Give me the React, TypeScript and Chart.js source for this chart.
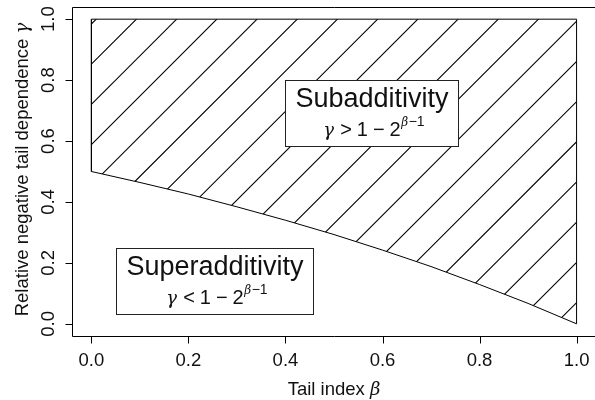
import React, { useEffect, useRef } from "react";
import { Chart, registerables } from "chart.js";

Chart.register(...registerables);

// Boundary curve: gamma at given beta
const betaValues = [0, 0.1, 0.2, 0.3, 0.4, 0.5, 0.6, 0.7, 0.8, 0.9, 1.0];
const gammaBoundary = [0.5, 0.464, 0.426, 0.384, 0.34, 0.293, 0.242, 0.188, 0.129, 0.067, 0.0];
const gammaTop = 1.0;

const xTickValues = [0, 0.2, 0.4, 0.6, 0.8, 1.0];
const xTickLabels = ["0.0", "0.2", "0.4", "0.6", "0.8", "1.0"];
const yTickValues = [0, 0.2, 0.4, 0.6, 0.8, 1.0];
const yTickLabels = ["0.0", "0.2", "0.4", "0.6", "0.8", "1.0"];

const regionNames = ["Subadditivity", "Superadditivity"];
const regionRelations = [">", "<"];
const regionAnchorBeta = [0.4, 0.05];
const regionAnchorGamma = [0.8, 0.25];

const xTitle = "Tail index ";
const xTitleSymbol = "β";
const yTitle = "Relative negative tail dependence ";
const yTitleSymbol = "γ";

const SANS = '"Liberation Sans", Arial, sans-serif';
const SERIF = '"DejaVu Serif", "Liberation Serif", serif';

function drawMath(ctx: CanvasRenderingContext2D, cx: number, baseline: number, rel: string) {
  const pieces = [
    { t: "γ", f: `italic 18px ${SERIF}`, dy: 0, gap: 6 },
    { t: rel, f: `20px ${SANS}`, dy: 0, gap: 5 },
    { t: "1", f: `20px ${SANS}`, dy: 0, gap: 5 },
    { t: "−", f: `20px ${SANS}`, dy: 0, gap: 5 },
    { t: "2", f: `20px ${SANS}`, dy: 0, gap: 0.5 },
    { t: "β", f: `italic 12px ${SERIF}`, dy: -10, gap: 0.5 },
    { t: "−1", f: `14px ${SANS}`, dy: -10, gap: 0 },
  ];
  let total = 0;
  const widths = pieces.map((p) => {
    ctx.font = p.f;
    const w = ctx.measureText(p.t).width;
    total += w + p.gap;
    return w;
  });
  let x = cx - total / 2;
  ctx.textAlign = "left";
  ctx.textBaseline = "alphabetic";
  pieces.forEach((p, i) => {
    ctx.font = p.f;
    ctx.fillText(p.t, x, baseline + p.dy);
    x += widths[i] + p.gap;
  });
}

const decorPlugin = {
  id: "decor",
  beforeDatasetsDraw(chart: any) {
    const ctx: CanvasRenderingContext2D = chart.ctx;
    const meta = chart.getDatasetMeta(0);
    const pts = meta.data;
    const area = chart.chartArea;
    const xs = chart.scales.x;
    const ys = chart.scales.y;
    ctx.save();
    ctx.beginPath();
    pts.forEach((p: any, i: number) => {
      if (i === 0) ctx.moveTo(p.x, p.y);
      else ctx.lineTo(p.x, p.y);
    });
    ctx.closePath();
    ctx.clip();
    const spacing = 40.2;
    const c0 = xs.getPixelForValue(0) + ys.getPixelForValue(gammaTop) + 4.8;
    const cMin = area.left + area.top;
    const cMax = area.right + area.bottom;
    let c = c0 - Math.ceil((c0 - cMin) / spacing) * spacing;
    ctx.strokeStyle = "#000";
    ctx.lineWidth = 1.1;
    ctx.beginPath();
    for (; c <= cMax; c += spacing) {
      ctx.moveTo(c - area.bottom, area.bottom);
      ctx.lineTo(c - area.top, area.top);
    }
    ctx.stroke();
    ctx.restore();
  },
  afterDatasetsDraw(chart: any) {
    const ctx: CanvasRenderingContext2D = chart.ctx;
    const area = chart.chartArea;
    const xs = chart.scales.x;
    const ys = chart.scales.y;
    ctx.save();
    ctx.fillStyle = "#000";
    ctx.strokeStyle = "#000";

    // region labels
    regionNames.forEach((name, i) => {
      const left = Math.round(xs.getPixelForValue(regionAnchorBeta[i])) + 0.5;
      const top = Math.round(ys.getPixelForValue(regionAnchorGamma[i])) + 0.5;
      ctx.font = `27px ${SANS}`;
      const w = ctx.measureText(name).width;
      const bw = Math.round(w + 20);
      const bh = 66;
      ctx.fillStyle = "#fff";
      ctx.fillRect(left, top, bw, bh);
      ctx.lineWidth = 1;
      ctx.strokeStyle = "#222";
      ctx.strokeRect(left, top, bw, bh);
      ctx.fillStyle = "#111";
      ctx.textAlign = "center";
      ctx.textBaseline = "alphabetic";
      ctx.fillText(name, left + bw / 2, top + 26);
      drawMath(ctx, left + bw / 2 + 2, top + 55.5, regionRelations[i]);
    });

    // frame (box, right side off canvas)
    ctx.strokeStyle = "#000";
    ctx.fillStyle = "#000";
    ctx.lineWidth = 1;
    ctx.beginPath();
    const L = area.left + 0.5;
    const T = area.top + 0.5;
    const B = area.bottom + 0.5;
    ctx.moveTo(chart.width + 2, T);
    ctx.lineTo(L, T);
    ctx.lineTo(L, B);
    ctx.lineTo(chart.width + 2, B);
    ctx.stroke();

    // x ticks
    ctx.beginPath();
    xTickValues.forEach((v) => {
      const px = Math.round(xs.getPixelForValue(v)) + 0.5;
      ctx.moveTo(px, B);
      ctx.lineTo(px, B + 7);
    });
    // y ticks
    yTickValues.forEach((v) => {
      const py = Math.round(ys.getPixelForValue(v)) + 0.5;
      ctx.moveTo(L, py);
      ctx.lineTo(L - 7, py);
    });
    ctx.stroke();

    ctx.fillStyle = "#111";
    ctx.font = `18.5px ${SANS}`;
    ctx.textAlign = "center";
    ctx.textBaseline = "alphabetic";
    xTickValues.forEach((v, i) => {
      ctx.fillText(xTickLabels[i], xs.getPixelForValue(v), 365.5);
    });
    yTickValues.forEach((v, i) => {
      ctx.save();
      ctx.translate(53.5, ys.getPixelForValue(v));
      ctx.rotate(-Math.PI / 2);
      ctx.fillText(yTickLabels[i], 0, 0);
      ctx.restore();
    });

    // x title
    ctx.font = `18.5px ${SANS}`;
    const xw1 = ctx.measureText(xTitle).width;
    ctx.font = `italic 18px ${SERIF}`;
    const xw2 = ctx.measureText(xTitleSymbol).width;
    const xc = (xs.getPixelForValue(0) + xs.getPixelForValue(1)) / 2;
    const sx = xc - (xw1 + xw2) / 2;
    ctx.textAlign = "left";
    ctx.font = `18.5px ${SANS}`;
    ctx.fillText(xTitle, sx, 395);
    ctx.font = `italic 18px ${SERIF}`;
    ctx.fillText(xTitleSymbol, sx + xw1, 395);

    // y title
    ctx.font = `18.5px ${SANS}`;
    const yw1 = ctx.measureText(yTitle).width;
    ctx.font = `italic 18px ${SERIF}`;
    const yw2 = ctx.measureText(yTitleSymbol).width;
    const yc = (area.top + area.bottom) / 2 - 2;
    ctx.save();
    ctx.translate(28, yc);
    ctx.rotate(-Math.PI / 2);
    const sy = -(yw1 + yw2) / 2;
    ctx.font = `18.5px ${SANS}`;
    ctx.fillText(yTitle, sy, 0);
    ctx.font = `italic 18px ${SERIF}`;
    ctx.fillText(yTitleSymbol, sy + yw1, 0);
    ctx.restore();

    ctx.restore();
  },
};

export default function App() {
  const canvasRef = useRef<HTMLCanvasElement | null>(null);

  useEffect(() => {
    const canvas = canvasRef.current;
    if (!canvas) return;
    const boundary = betaValues.map((b, i) => ({ x: b, y: gammaBoundary[i] }));
    const polygon = [
      ...boundary,
      { x: betaValues[betaValues.length - 1], y: gammaTop },
      { x: betaValues[0], y: gammaTop },
      { x: betaValues[0], y: gammaBoundary[0] },
    ];
    const chart = new Chart(canvas, {
      type: "scatter",
      data: {
        datasets: [
          {
            data: polygon,
            showLine: true,
            borderColor: "#000",
            borderWidth: 1,
            pointRadius: 0,
            fill: false,
            tension: 0,
          },
        ],
      },
      options: {
        animation: false,
        responsive: false,
        devicePixelRatio: 1,
        layout: { padding: { left: 72, top: 7, right: 0, bottom: 64 } },
        plugins: { legend: { display: false }, tooltip: { enabled: false } },
        scales: {
          x: { type: "linear", min: -0.04, max: 1.038, display: false },
          y: { type: "linear", min: -0.04, max: 1.04, display: false },
        },
      },
      plugins: [decorPlugin],
    });
    return () => chart.destroy();
  }, []);

  return (
    <div style={{ position: "fixed", left: 0, top: 0, width: 595, height: 400, background: "#fff", overflow: "hidden" }}>
      <canvas ref={canvasRef} width={595} height={400} style={{ display: "block" }} />
    </div>
  );
}
